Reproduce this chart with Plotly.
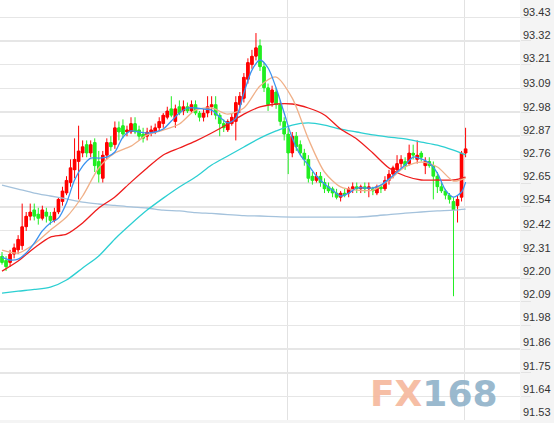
import plotly.graph_objects as go

# ---------------- data ----------------
opens = [92.27, 92.25, 92.24, 92.28, 92.30, 92.32, 92.41, 92.46, 92.49, 92.47,
         92.45, 92.48, 92.46, 92.44, 92.48, 92.53, 92.57, 92.62, 92.68, 92.72,
         92.76, 92.80, 92.76, 92.81, 92.72, 92.64, 92.75, 92.81, 92.80, 92.88,
         92.89, 92.86, 92.86, 92.90, 92.87, 92.85, 92.84, 92.86, 92.86, 92.88,
         92.90, 92.93, 92.97, 92.91, 92.98, 92.96, 92.98, 92.96, 92.99, 92.95,
         92.93, 92.95, 92.98, 92.99, 92.94, 92.90, 92.87, 92.90, 92.91, 92.99,
         93.02, 93.11, 93.18, 93.22, 93.27, 93.17, 93.07, 93.00, 93.05, 92.99,
         92.91, 92.85, 92.76, 92.84, 92.80, 92.76, 92.73, 92.65, 92.63, 92.65,
         92.62, 92.60, 92.59, 92.57, 92.55, 92.57, 92.57, 92.59, 92.60, 92.59,
         92.60, 92.59, 92.59, 92.57, 92.60, 92.59, 92.63, 92.66, 92.68, 92.71,
         92.72, 92.71, 92.76, 92.73, 92.76, 92.70, 92.72, 92.70, 92.65, 92.60,
         92.58, 92.56, 92.53, 92.51, 92.55, 92.76]
highs = [92.29, 92.27, 92.30, 92.33, 92.37, 92.52, 92.48, 92.52, 92.52, 92.50,
         92.51, 92.50, 92.48, 92.50, 92.55, 92.60, 92.65, 92.73, 92.83, 92.89,
         92.82, 92.82, 92.82, 92.83, 92.77, 92.77, 92.83, 92.84, 92.91, 92.91,
         92.92, 92.89, 92.93, 92.93, 92.89, 92.88, 92.88, 92.89, 92.90, 92.93,
         92.95, 92.98, 93.03, 92.99, 93.01, 93.01, 93.00, 93.01, 93.01, 92.96,
         92.97, 93.03, 93.03, 93.03, 92.95, 92.92, 92.92, 92.95, 93.03, 93.05,
         93.14, 93.21, 93.25, 93.33, 93.30, 93.19, 93.09, 93.08, 93.07, 93.01,
         92.93, 92.88, 92.86, 92.86, 92.82, 92.78, 92.75, 92.67, 92.67, 92.67,
         92.64, 92.62, 92.60, 92.59, 92.58, 92.59, 92.60, 92.62, 92.62, 92.61,
         92.62, 92.62, 92.60, 92.61, 92.61, 92.65, 92.68, 92.70, 92.75, 92.75,
         92.74, 92.80, 92.80, 92.82, 92.77, 92.74, 92.74, 92.72, 92.67, 92.62,
         92.59, 92.57, 92.55, 92.56, 92.77, 92.88]
lows = [92.23, 92.20, 92.22, 92.26, 92.28, 92.30, 92.39, 92.44, 92.44, 92.42,
        92.44, 92.43, 92.42, 92.43, 92.47, 92.51, 92.56, 92.60, 92.64, 92.54,
        92.74, 92.74, 92.74, 92.67, 92.62, 92.62, 92.73, 92.77, 92.78, 92.82,
        92.83, 92.84, 92.85, 92.85, 92.82, 92.81, 92.82, 92.84, 92.85, 92.86,
        92.88, 92.92, 92.93, 92.88, 92.94, 92.94, 92.95, 92.95, 92.94, 92.91,
        92.91, 92.93, 92.94, 92.92, 92.84, 92.86, 92.86, 92.89, 92.82, 92.95,
        93.00, 93.09, 93.16, 93.20, 93.15, 93.05, 92.96, 92.98, 92.97, 92.89,
        92.82, 92.66, 92.74, 92.77, 92.75, 92.70, 92.62, 92.61, 92.62, 92.60,
        92.57, 92.57, 92.55, 92.54, 92.53, 92.55, 92.55, 92.57, 92.57, 92.57,
        92.57, 92.55, 92.56, 92.56, 92.57, 92.58, 92.61, 92.64, 92.67, 92.69,
        92.68, 92.70, 92.73, 92.71, 92.72, 92.66, 92.69, 92.54, 92.57, 92.57,
        92.54, 92.52, 92.08, 92.43, 92.53, 92.74]
closes = [92.24, 92.22, 92.28, 92.31, 92.35, 92.41, 92.46, 92.48, 92.46, 92.45,
          92.49, 92.46, 92.44, 92.48, 92.54, 92.58, 92.63, 92.69, 92.73, 92.77,
          92.79, 92.76, 92.80, 92.70, 92.66, 92.75, 92.81, 92.79, 92.88, 92.86,
          92.85, 92.87, 92.90, 92.86, 92.84, 92.83, 92.86, 92.87, 92.88, 92.91,
          92.94, 92.96, 92.94, 92.97, 92.95, 92.98, 92.96, 92.99, 92.95, 92.93,
          92.95, 92.98, 92.99, 92.94, 92.90, 92.88, 92.91, 92.93, 93.00, 93.03,
          93.12, 93.19, 93.22, 93.26, 93.17, 93.07, 92.99, 93.06, 92.99, 92.91,
          92.85, 92.76, 92.84, 92.79, 92.76, 92.73, 92.64, 92.63, 92.65, 92.62,
          92.59, 92.58, 92.57, 92.55, 92.57, 92.56, 92.59, 92.60, 92.59, 92.60,
          92.59, 92.60, 92.58, 92.60, 92.59, 92.63, 92.66, 92.69, 92.71, 92.73,
          92.70, 92.76, 92.75, 92.75, 92.74, 92.72, 92.70, 92.65, 92.60, 92.58,
          92.56, 92.54, 92.49, 92.54, 92.76, 92.78]
bars = list(range(len(closes)))

# moving averages read at every 4th bar (and last bar)
ma_bars_4 = list(range(0, 113, 4)) + [115]
ma_long = [92.608, 92.589, 92.570, 92.556, 92.542, 92.527, 92.518, 92.511, 92.504, 92.499,
           92.489, 92.485, 92.477, 92.473, 92.468, 92.463, 92.461, 92.458, 92.456, 92.456,
           92.456, 92.456, 92.456, 92.461, 92.468, 92.475, 92.480, 92.485, 92.489, 92.494]
ma_cyan = [92.095, 92.104, 92.112, 92.123, 92.157, 92.214, 92.271, 92.352, 92.423, 92.489,
           92.546, 92.599, 92.646, 92.703, 92.746, 92.789, 92.831, 92.865, 92.893, 92.903,
           92.893, 92.874, 92.860, 92.846, 92.836, 92.827, 92.812, 92.798, 92.774, 92.751]
ma_red = [92.199, 92.247, 92.309, 92.361, 92.375, 92.428, 92.499, 92.551, 92.622, 92.689,
          92.751, 92.784, 92.817, 92.855, 92.898, 92.945, 92.979, 92.993, 92.993, 92.974,
          92.941, 92.874, 92.827, 92.760, 92.689, 92.651, 92.632, 92.632, 92.632, 92.646]
ma_tan = [92.299, 92.285, 92.328, 92.394, 92.456, 92.556, 92.689, 92.760, 92.793, 92.846,
          92.869, 92.898, 92.964, 92.974, 92.945, 92.974, 93.078, 93.121, 93.021, 92.827,
          92.670, 92.599, 92.584, 92.584, 92.632, 92.694, 92.717, 92.694, 92.627, 92.641]
# short moving average read at every 2nd bar (and last bar)
ma_bars_2 = list(range(0, 115, 2)) + [115]
ma_blue = [92.266, 92.252, 92.256, 92.285, 92.332, 92.390, 92.428, 92.451, 92.523, 92.632,
           92.698, 92.736, 92.736, 92.741, 92.765, 92.836, 92.865, 92.860, 92.855, 92.860,
           92.874, 92.912, 92.950, 92.974, 92.974, 92.969, 92.964, 92.931, 92.903, 92.926,
           93.045, 93.154, 93.202, 93.164, 93.069, 92.950, 92.831, 92.751, 92.703, 92.651,
           92.613, 92.584, 92.556, 92.570, 92.594, 92.594, 92.594, 92.608, 92.637, 92.670,
           92.703, 92.741, 92.732, 92.713, 92.665, 92.584, 92.551, 92.575, 92.622]

tick_labels = ["93.43", "93.32", "93.21", "93.09", "92.98", "92.87", "92.76", "92.65",
               "92.54", "92.42", "92.31", "92.20", "92.09", "91.98", "91.86", "91.75",
               "91.64", "91.53"]
session_marks = [70.7, 114.8]

UP, DOWN = "#ff0000", "#22ee22"

# ---------------- figure ----------------
fig = go.Figure()
# wicks (and thin bodies) from the candlestick trace
fig.add_trace(go.Candlestick(
    x=bars, open=opens, high=highs, low=lows, close=closes,
    increasing=dict(line=dict(color=UP, width=1), fillcolor=UP),
    decreasing=dict(line=dict(color=DOWN, width=1), fillcolor=DOWN),
    whiskerwidth=0, showlegend=False, hoverinfo="skip"))
# full-width bodies
body_colors = [UP if c >= o else DOWN for o, c in zip(opens, closes)]
fig.add_trace(go.Bar(
    x=bars, y=[c - o for o, c in zip(opens, closes)], base=opens, width=0.9,
    marker=dict(color=body_colors, line=dict(width=0)), showlegend=False, hoverinfo="skip"))

def ma(xs, ys, color, width=1.3):
    fig.add_trace(go.Scatter(x=xs, y=ys, mode="lines", showlegend=False, hoverinfo="skip",
                             line=dict(color=color, width=width, shape="spline", smoothing=0.8)))

ma(ma_bars_4, ma_long, "#a4c2dc")
ma(ma_bars_4, ma_cyan, "#2ccfd2")
ma(ma_bars_4, ma_red, "#ee1c1c")
ma(ma_bars_4, ma_tan, "#f0b088")
ma(ma_bars_2, ma_blue, "#3a92f0")

y_top, y_bot = 93.487, 91.492
# invisible helper so the grid axis is rendered
fig.add_trace(go.Scatter(x=[bars[0]], y=[closes[0]], yaxis="y2", mode="markers",
                         marker=dict(opacity=0), showlegend=False, hoverinfo="skip"))

fig.update_layout(
    width=554, height=423,
    margin=dict(l=0, r=34, t=0, b=3),
    paper_bgcolor="#f4f4f4", plot_bgcolor="#ffffff",
    barmode="overlay", hovermode=False,
    xaxis=dict(range=[-0.5, 128.5], showticklabels=False, tickvals=session_marks,
               showgrid=True, gridcolor="#e2e2e2", gridwidth=1, zeroline=False,
               rangeslider=dict(visible=False), fixedrange=True, showline=False),
    yaxis=dict(range=[y_bot, y_top], side="right",
               tickvals=[float(t) for t in tick_labels], ticktext=tick_labels,
               showgrid=False, zeroline=False, ticks="", ticklen=0, ticklabelstandoff=2,
               tickfont=dict(family="Liberation Sans, Arial, sans-serif", size=11, color="#333333"),
               fixedrange=True),
    yaxis2=dict(range=[y_bot, y_top], overlaying="y", side="right", tickmode="linear",
                tick0=93.405, dtick=0.1126, showticklabels=False, showgrid=True,
                gridcolor="#e6e6e6", gridwidth=1.5, ticks="outside", ticklen=10,
                tickcolor="#e2e2e2", zeroline=False, fixedrange=True),
    annotations=[dict(
        xref="paper", yref="paper", x=434 / 520, y=1 - 393 / 420,
        text='<b><span style="color:#f6b89c">FX</span><span style="color:#90b2c9">168</span></b>',
        showarrow=False, font=dict(family="DejaVu Sans", size=36), opacity=0.9,
        xanchor="center", yanchor="middle")],
)

fig.write_html("out.html", config={"displayModeBar": False, "staticPlot": True},
               post_script="document.body.style.margin='0';")
